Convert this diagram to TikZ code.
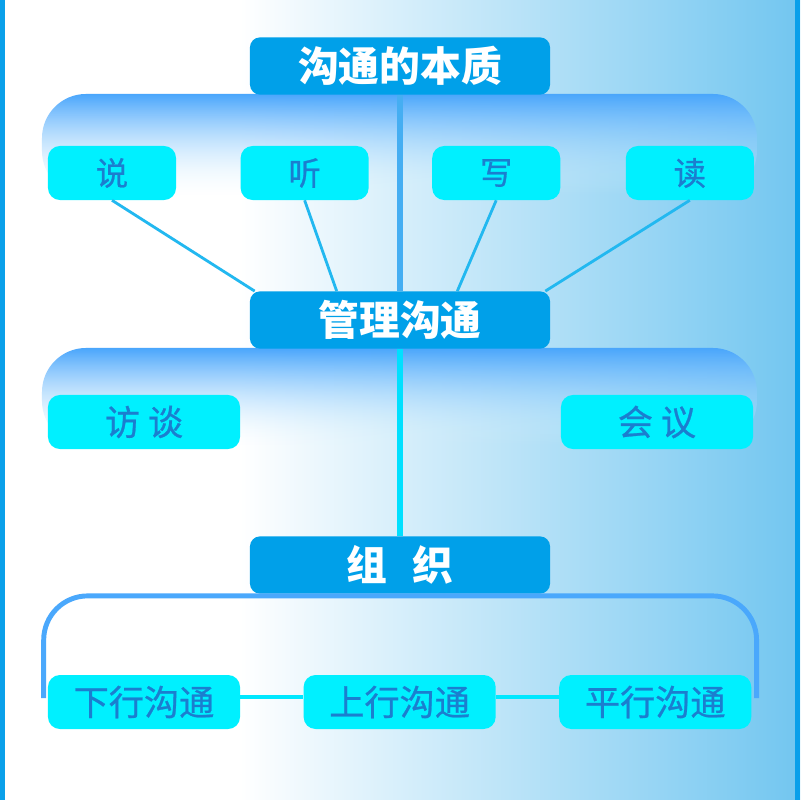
\documentclass[tikz,border=0pt]{standalone}
\usepackage{fontspec}
\newfontfamily\cjk{Noto Sans CJK SC}
\newfontfamily\cjkmed[FakeBold=0.7]{Noto Sans CJK SC}
\usepackage{tikz}
\usetikzlibrary{positioning,calc,fadings}
\usepackage{xcolor}
\definecolor{headblue}{HTML}{00A0E9}
\definecolor{leafcyan}{HTML}{00F0FF}
\definecolor{leaftext}{HTML}{1B7ECF}
\definecolor{stemblue}{HTML}{45AEF2}
\definecolor{stemcyan}{HTML}{00E0FF}
\definecolor{linkblue}{HTML}{22B8F0}
\definecolor{bracketblue}{HTML}{4AA8FC}
\definecolor{barcyan}{HTML}{00E8FF}
\definecolor{bgblue}{HTML}{72C6F0}
\definecolor{edgeblue}{HTML}{0AA0EA}
\definecolor{archtop}{HTML}{4AA6FC}
\definecolor{archmid}{HTML}{66D6FA}
\definecolor{archlow}{HTML}{E6FAFF}
\tikzfading[name=archfade, top color=transparent!0, middle color=transparent!20, bottom color=transparent!100]

\begin{document}
\begin{tikzpicture}[
    x=0.025cm, y=-0.025cm,
    head/.style={rectangle, rounded corners=0.25cm, minimum width=7.5cm, minimum height=1.43cm, inner sep=0pt, fill=headblue, text=white, font=\cjk\bfseries\fontsize{29}{31}\selectfont},
    leaf/.style={rectangle, rounded corners=0.3cm, minimum width=3.2cm, minimum height=1.35cm, inner sep=0pt, fill=leafcyan, text=leaftext, font=\cjkmed\fontsize{23}{26}\selectfont},
    wide/.style={leaf, minimum width=4.8cm, font=\cjkmed\fontsize{25}{28}\selectfont},
    arch/.style={top color=archtop, middle color=archmid, bottom color=archlow, path fading=archfade, rounded corners=1.1cm},
    stem/.style={line width=4pt, #1},
    link/.style={line width=2pt, linkblue},
    bar/.style={line width=3.5pt, #1}
]
\useasboundingbox (0,0) rectangle (800,800);
\fill[white] (0,0) rectangle (800,800);
\shade[left color=white, right color=bgblue] (240,0) rectangle (800,800);
\fill[edgeblue] (0,0) rectangle (5,800);
\fill[edgeblue] (795,0) rectangle (800,800);

\shade[arch] (42,195) |- (757,94) -- (757,195) -- cycle;
\shade[arch] (42,445) |- (757,348) -- (757,445) -- cycle;

\node[head] (title) at (400,66) {沟通的本质};
\node[leaf] (shuo) at (112,173) {说};
\node[leaf, right=1.6cm of shuo] (ting) {听};
\node[leaf, right=1.575cm of ting] (xie) {写};
\node[leaf, right=1.625cm of xie] (du) {读};
\node[head] (guanli) at (400,320) {管理沟通};
\node[wide] (fangtan) at (144,422) {访 谈\hspace{0.5em}};
\node[wide] (huiyi) at (657,422) {会 议};
\node[head] (zuzhi) at (400,565) {组\hspace{0.6em}织};
\node[wide] (xiaxing) at (144,702) {下行沟通};
\node[wide, right=1.575cm of xiaxing] (shangxing) {上行沟通};
\node[wide, right=1.575cm of shangxing] (pingxing) {平行沟通};

\draw[stem=stemblue] (title.south) -- (guanli.north);
\draw[link] (shuo.south) -- ($(guanli.north west)+(5,0)$);
\draw[link] (ting.south) -- ($(guanli.north west)+(87,0)$);
\draw[link] (xie.south) -- ($(guanli.north east)+(-93,0)$);
\draw[link] (du.south) -- ($(guanli.north east)+(-5,0)$);
\draw[stem=stemcyan] (guanli.south) -- (zuzhi.north);
\draw[bar=bracketblue, rounded corners=1.1cm] ($(xiaxing.west)+(-4,-4)$) |- ($(zuzhi.south)+(0,2)$) -| ($(pingxing.east)+(5,-4)$);
\draw[bar=barcyan] ($(xiaxing.east)+(0,-5)$) -- ($(shangxing.west)+(0,-5)$);
\draw[bar=barcyan] ($(shangxing.east)+(0,-5)$) -- ($(pingxing.west)+(0,-5)$);
\end{tikzpicture}
\end{document}
